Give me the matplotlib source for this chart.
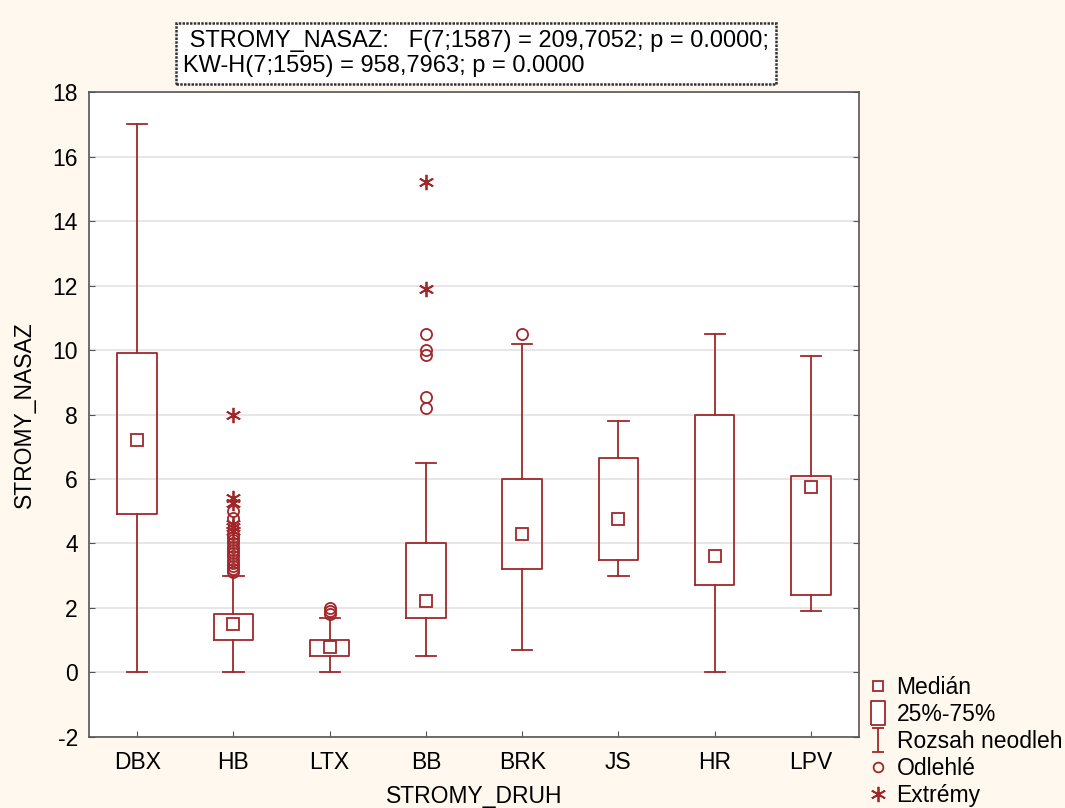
import numpy as np
import matplotlib
matplotlib.use("Agg")
from matplotlib import pyplot as plt
from matplotlib.lines import Line2D
from matplotlib.path import Path

plt.rcParams['font.family'] = ['Liberation Sans', 'DejaVu Sans']
plt.rcParams['axes.unicode_minus'] = False

cats = ['DBX', 'HB', 'LTX', 'BB', 'BRK', 'JS', 'HR', 'LPV']
medians = [7.2, 1.5, 0.8, 2.2, 4.3, 4.75, 3.6, 5.75]
q1 = [4.9, 1.0, 0.5, 1.7, 3.2, 3.5, 2.7, 2.4]
q3 = [9.9, 1.8, 1.0, 4.0, 6.0, 6.65, 8.0, 6.1]
whis_lo = [0.0, 0.0, 0.0, 0.5, 0.7, 3.0, 0.0, 1.9]
whis_hi = [17.0, 3.0, 1.7, 6.5, 10.2, 7.8, 10.5, 9.8]

# odlehle (outliers) and extremy per category
outliers = {
    'HB': [3.1, 3.2, 3.3, 3.4, 3.5, 3.6, 3.7, 3.8, 3.9, 4.0, 4.1, 4.2, 4.3, 4.8, 5.0],
    'LTX': [1.8, 1.9, 2.0],
    'BB': [8.2, 8.55, 9.85, 10.0, 10.5],
    'BRK': [10.5],
}
extremes = {
    'HB': [4.4, 4.5, 4.6, 5.25, 5.4, 8.0],
    'BB': [11.9, 15.2],
}

red = '#a0282a'
fs = 16.5

fig = plt.figure(figsize=(10.65, 8.08), dpi=100, facecolor='#fef8ee')
ax = fig.add_axes([0.0836, 0.088, 0.723, 0.798])
ax.set_facecolor('white')

pos = np.arange(1, len(cats) + 1)
stats = []
for i, c in enumerate(cats):
    stats.append(dict(med=medians[i], q1=q1[i], q3=q3[i],
                      whislo=whis_lo[i], whishi=whis_hi[i], fliers=[], label=c))

ax.bxp(stats, positions=pos, widths=0.41, showfliers=False,
       boxprops=dict(color=red, linewidth=1.3),
       whiskerprops=dict(color=red, linewidth=1.3),
       capprops=dict(color=red, linewidth=1.3),
       medianprops=dict(linestyle='none'),
       capwidths=0.21)
ax.plot(pos, medians, linestyle='none', marker='s', markersize=8,
        markerfacecolor='white', markeredgecolor=red, markeredgewidth=1.3, zorder=4)

for i, c in enumerate(cats):
    if c in outliers:
        v = outliers[c]
        ax.plot([pos[i]] * len(v), v, linestyle='none', marker='o', markersize=8,
                markerfacecolor='none', markeredgecolor=red, markeredgewidth=1.3, zorder=3)
    if c in extremes:
        v = extremes[c]
        ax.plot([pos[i]] * len(v), v, linestyle='none', marker=(6, 2, 0), markersize=11,
                color=red, markeredgewidth=1.3, zorder=3)

ax.set_xlim(0.5, 8.5)
ax.set_ylim(-2, 18)
ax.set_yticks(np.arange(-2, 19, 2))
ax.set_xticks(pos)
ax.set_xticklabels(cats)
ax.yaxis.grid(True, color='#e2e2e2', linewidth=1.2)
ax.set_axisbelow(True)
ax.tick_params(axis='both', direction='in', labelsize=fs, length=4, color='#555555')
ax.tick_params(axis='y', right=True, pad=8)
ax.tick_params(axis='x', pad=10)
for s in ax.spines.values():
    s.set_color('#555555')
    s.set_linewidth(1.2)

ax.set_ylabel('STROMY_NASAZ', fontsize=fs, labelpad=12)
ax.set_xlabel('STROMY_DRUH', fontsize=fs, labelpad=8)

fig.text(0.172, 0.934,
         ' STROMY_NASAZ:   F(7;1587) = 209,7052; p = 0.0000;\nKW-H(7;1595) = 958,7963; p = 0.0000',
         fontsize=17, ha='left', va='center', linespacing=1.15,
         bbox=dict(boxstyle='square,pad=0.3', facecolor='white',
                   edgecolor='#333333', linewidth=1.8, linestyle=(0, (1, 0.5))))

# legend
ibeam = Path([(-0.5, 1), (0.5, 1), (0, 1), (0, -1), (-0.5, -1), (0.5, -1)],
             [Path.MOVETO, Path.LINETO, Path.MOVETO, Path.LINETO, Path.MOVETO, Path.LINETO])
rect = Path([(-0.6, -1), (0.6, -1), (0.6, 1), (-0.6, 1), (-0.6, -1)])
handles = [
    Line2D([], [], linestyle='none', marker='s', markersize=7.5, markerfacecolor='white',
           markeredgecolor=red, markeredgewidth=1.3),
    Line2D([], [], linestyle='none', marker=rect, markersize=17,
           markerfacecolor='white', markeredgecolor=red, markeredgewidth=1.3),
    Line2D([], [], linestyle='none', marker=ibeam, markersize=17, color=red,
           markeredgewidth=1.3),
    Line2D([], [], linestyle='none', marker='o', markersize=7, markerfacecolor='none',
           markeredgecolor=red, markeredgewidth=1.3),
    Line2D([], [], linestyle='none', marker=(6, 2, 0), markersize=11, color=red,
           markeredgewidth=1.3),
]
labels = ['Medián', '25%-75%', 'Rozsah neodleh', 'Odlehlé', 'Extrémy']
fig.legend(handles, labels, loc='upper left', bbox_to_anchor=(0.815, 0.163),
           frameon=False, fontsize=fs, handlelength=0.9, handletextpad=0.35,
           labelspacing=0.17, borderaxespad=0, borderpad=0)

fig.savefig('out.png', dpi=100, facecolor=fig.get_facecolor())
